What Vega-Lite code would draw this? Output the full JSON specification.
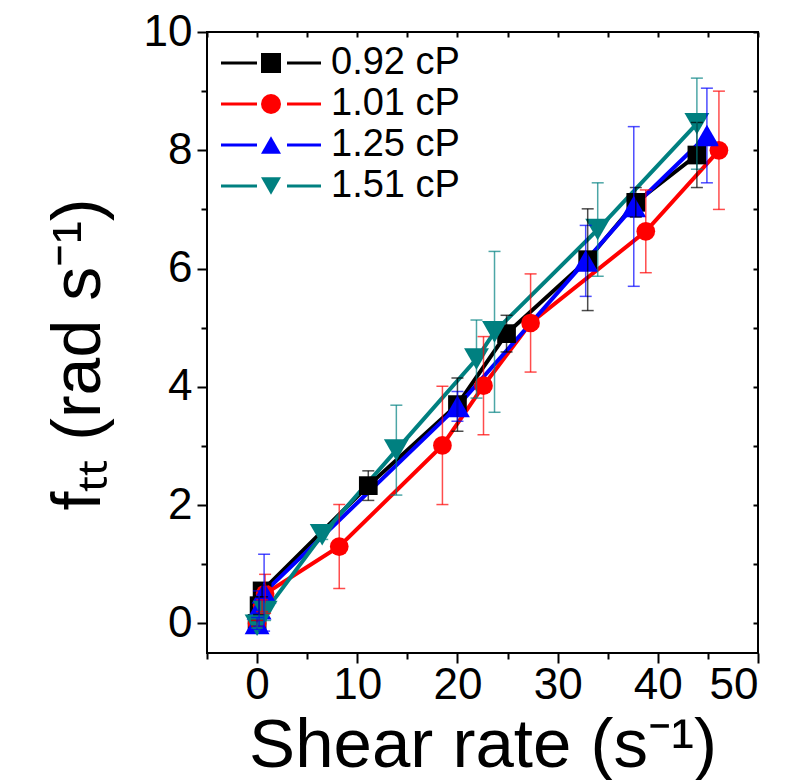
{
  "$schema": "https://vega.github.io/schema/vega-lite/v6.json",
  "autosize": "none",
  "width": 551,
  "height": 621,
  "padding": {"left": 207, "top": 32, "right": 37, "bottom": 127},
  "background": "white",
  "config": {
    "font": "Liberation Sans",
    "view": {"stroke": "black", "strokeWidth": 2},
    "axis": {"grid": false, "domain": false, "tickColor": "black", "tickWidth": 2, "labelColor": "black", "titleColor": "black", "titleFontWeight": "normal", "labelFont": "Liberation Sans"},
    "legend": {"labelFont": "Liberation Sans", "labelColor": "black"}
  },
  "data": {
    "values": [
      {"visc": "0.92 cP", "x": 0, "y": 0, "err": 0.05},
      {"visc": "0.92 cP", "x": 0.2, "y": 0.3, "err": 0.15},
      {"visc": "0.92 cP", "x": 0.5, "y": 0.55, "err": 0.1},
      {"visc": "0.92 cP", "x": 11.1, "y": 2.33, "err": 0.25},
      {"visc": "0.92 cP", "x": 20.0, "y": 3.7, "err": 0.45},
      {"visc": "0.92 cP", "x": 24.9, "y": 4.9, "err": 0.31},
      {"visc": "0.92 cP", "x": 33.0, "y": 6.15, "err": 0.86},
      {"visc": "0.92 cP", "x": 37.8, "y": 7.12, "err": 0.25},
      {"visc": "0.92 cP", "x": 43.9, "y": 7.92, "err": 0.55},
      {"visc": "1.01 cP", "x": 0, "y": 0, "err": 0.05},
      {"visc": "1.01 cP", "x": 0.5, "y": 0.3, "err": 0.1},
      {"visc": "1.01 cP", "x": 0.8, "y": 0.5, "err": 0.33},
      {"visc": "1.01 cP", "x": 8.2, "y": 1.3, "err": 0.71},
      {"visc": "1.01 cP", "x": 18.5, "y": 3.01, "err": 1.0},
      {"visc": "1.01 cP", "x": 22.6, "y": 4.02, "err": 0.83},
      {"visc": "1.01 cP", "x": 27.3, "y": 5.08, "err": 0.83},
      {"visc": "1.01 cP", "x": 38.8, "y": 6.63, "err": 0.7},
      {"visc": "1.01 cP", "x": 46.1, "y": 8.0, "err": 1.0},
      {"visc": "1.25 cP", "x": 0, "y": 0, "err": 0.1},
      {"visc": "1.25 cP", "x": 0.2, "y": 0.25, "err": 0.3},
      {"visc": "1.25 cP", "x": 0.7, "y": 0.52, "err": 0.65},
      {"visc": "1.25 cP", "x": 20.0, "y": 3.67, "err": 0.25},
      {"visc": "1.25 cP", "x": 32.8, "y": 6.13, "err": 0.6},
      {"visc": "1.25 cP", "x": 37.6, "y": 7.05, "err": 1.35},
      {"visc": "1.25 cP", "x": 44.9, "y": 8.25, "err": 0.8},
      {"visc": "1.51 cP", "x": 0, "y": -0.03, "err": 0.05},
      {"visc": "1.51 cP", "x": 0.8, "y": 0.2, "err": 0.15},
      {"visc": "1.51 cP", "x": 6.5, "y": 1.5, "err": 0.08},
      {"visc": "1.51 cP", "x": 13.9, "y": 2.93, "err": 0.76},
      {"visc": "1.51 cP", "x": 21.9, "y": 4.47, "err": 0.66},
      {"visc": "1.51 cP", "x": 23.7, "y": 4.93, "err": 1.36},
      {"visc": "1.51 cP", "x": 34.0, "y": 6.66, "err": 0.79},
      {"visc": "1.51 cP", "x": 43.9, "y": 8.45, "err": 0.77}
    ]
  },
  "resolve": {"axis": {"x": "independent", "y": "independent"}},
  "layer": [
    {
      "mark": {"type": "line", "strokeWidth": 4},
      "encoding": {
        "x": {"field": "x", "type": "quantitative", "scale": {"domain": [-5, 50], "nice": false, "zero": false},
          "axis": {"orient": "bottom", "values": [0, 10, 20, 30, 40, 50], "tickSize": 10, "labelPadding": 0, "labelFontSize": 44, "title": "Shear rate (s⁻¹)", "titleFontSize": 69, "titleFont": "Liberation Sans", "titleBaseline": "alphabetic", "titleY": 113}},
        "y": {"field": "y", "type": "quantitative", "scale": {"domain": [-0.5, 10], "nice": false, "zero": false},
          "axis": {"orient": "left", "values": [0, 2, 4, 6, 8, 10], "tickSize": 10, "labelPadding": 5, "labelFontSize": 44, "title": "fₜₜ (rad s⁻¹)", "titleFontSize": 68, "titleFont": "Liberation Sans", "titleBaseline": "alphabetic", "titleAngle": 270, "titleX": -108, "titleY": 322}},
        "stroke": {"field": "visc", "type": "nominal",
          "scale": {"domain": ["0.92 cP", "1.01 cP", "1.25 cP", "1.51 cP"], "range": ["#000000", "#ff0000", "#0000ff", "#008080"]},
          "legend": {"orient": "top-left", "offset": 12, "padding": 0, "title": null, "symbolType": "M-1.7,0H1.9M4.9,0H8.3", "symbolSize": 400, "symbolStrokeWidth": 3, "labelFontSize": 38, "labelOffset": 74, "rowPadding": 3}}
      }
    },
    {
      "mark": {"type": "point", "filled": true, "opacity": 1, "strokeWidth": 0},
      "encoding": {
        "x": {"field": "x", "type": "quantitative", "axis": {"orient": "bottom", "values": [-5, 5, 15, 25, 35, 45], "tickSize": 6, "labels": false, "title": null}},
        "y": {"field": "y", "type": "quantitative", "axis": {"orient": "left", "values": [1, 3, 5, 7, 9], "tickSize": 6, "labels": false, "title": null}},
        "fill": {"field": "visc", "type": "nominal",
          "scale": {"domain": ["0.92 cP", "1.01 cP", "1.25 cP", "1.51 cP"], "range": ["#000000", "#ff0000", "#0000ff", "#008080"]},
          "legend": null},
        "shape": {"field": "visc", "type": "nominal",
          "scale": {"domain": ["0.92 cP", "1.01 cP", "1.25 cP", "1.51 cP"], "range": ["square", "circle", "triangle-up", "triangle-down"]},
          "legend": {"orient": "none", "legendX": 45, "legendY": 12, "padding": 0, "title": null, "symbolSize": 400, "symbolStrokeWidth": 0, "labelFontSize": 38, "labelExpr": "''", "rowPadding": 3,
            "encode": {"symbols": {
              "enter": {"size": {"signal": "datum.value == '0.92 cP' ? 400 : datum.value == '1.01 cP' ? 340 : 680"}},
              "update": {"fill": {"scale": "fill", "field": "value"}, "size": {"signal": "datum.value == '0.92 cP' ? 400 : datum.value == '1.01 cP' ? 340 : 680"}, "opacity": {"value": 1}}}}}},
        "size": {"condition": {"test": "datum.visc == '1.25 cP' || datum.visc == '1.51 cP'", "value": 620}, "value": 350}
      }
    },
    {
      "mark": {"type": "errorbar", "ticks": {"size": 12}, "thickness": 1.5, "opacity": 0.7},
      "encoding": {
        "x": {"field": "x", "type": "quantitative", "axis": {"orient": "top", "values": [-5, 0, 5, 10, 15, 20, 25, 30, 35, 40, 45, 50], "tickSize": -5, "labels": false, "title": null}},
        "y": {"field": "y", "type": "quantitative", "axis": {"orient": "right", "values": [0, 1, 2, 3, 4, 5, 6, 7, 8, 9, 10], "tickSize": -5, "labels": false, "title": null}},
        "yError": {"field": "err"},
        "color": {"field": "visc", "type": "nominal",
          "scale": {"domain": ["0.92 cP", "1.01 cP", "1.25 cP", "1.51 cP"], "range": ["#000000", "#ff0000", "#0000ff", "#008080"]},
          "legend": null}
      }
    }
  ]
}
